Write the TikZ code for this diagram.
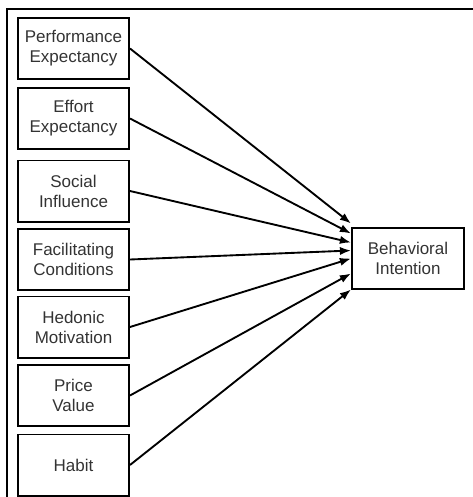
\documentclass[tikz,border=0pt]{standalone}
\usepackage{fontspec}
\setmainfont{Liberation Sans}
\usetikzlibrary{arrows.meta, positioning}

\begin{document}
\begin{tikzpicture}[x=0.03cm, y=-0.03cm,
    construct/.style={rectangle, draw=black, line width=1.7pt, minimum width=3.33cm,
                      minimum height=1.83cm, inner sep=0pt, align=center,
                      font=\fontsize{14.5}{17}\selectfont, text=black!80},
    link/.style={-{Latex[length=9.5pt, width=7pt]}, line width=1.6pt},
  ]
    \useasboundingbox (0,0) rectangle (473,497);

    % ─── outer frame (cut off right and bottom) ───
    \draw[line width=1.8pt] (7,510) -- (7,9) -- (490,9);

    % ─── outcome ───
    \node[construct, minimum width=3.36cm] (bi) at (408,258.5) {Behavioral\\Intention};

    % ─── predictors, each with an arrow into the outcome ───
    \foreach \name/\txt/\y/\dy in {
        pe/{Performance\\Expectancy}/48.5/1.05,
        ee/{Effort\\Expectancy}/118.5/0.75,
        si/{Social\\Influence}/191/0.48,
        fc/{Facilitating\\Conditions}/259.5/0.24,
        hm/{Hedonic\\Motivation}/327/0,
        pv/{Price\\Value}/395.5/-0.45,
        hb/{Habit}/465/-0.93}{
      \node[construct] (\name) at (73.5,\y) {\txt};
      \draw[link] (\name.east) -- ([yshift=\dy cm]bi.west);
    }
  \end{tikzpicture}
\end{document}
